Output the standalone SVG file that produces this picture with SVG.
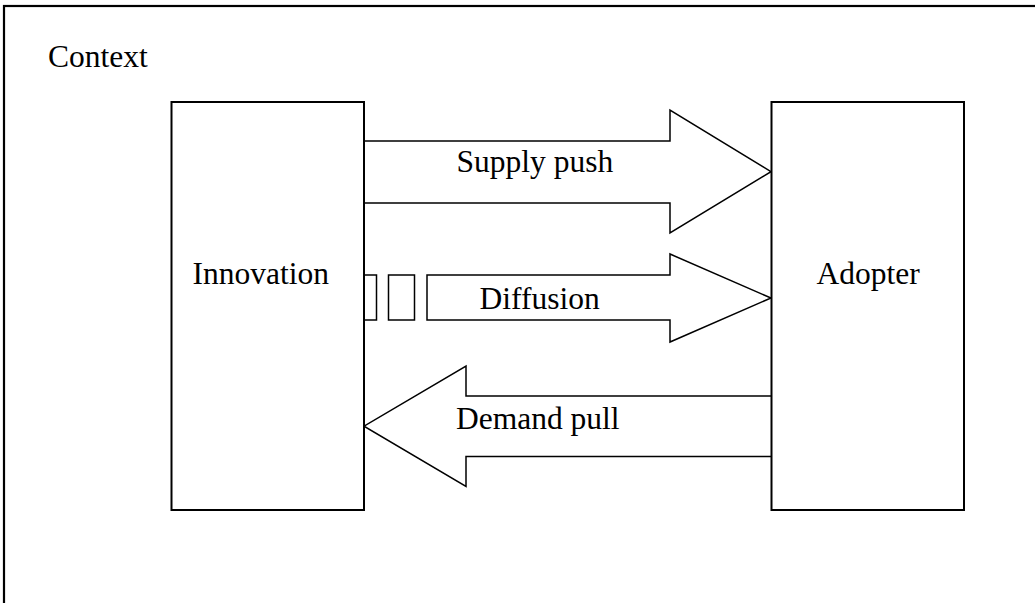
<svg xmlns="http://www.w3.org/2000/svg" width="1035" height="603" viewBox="0 0 1035 603">
<style>
.frame{fill:none;stroke:#000;stroke-width:2.2}
.box{fill:#fff;stroke:#000;stroke-width:2}
.arrow{fill:#fff;stroke:#000;stroke-width:1.5;stroke-linejoin:miter}
.lbl{font-family:"Liberation Serif","Times New Roman",serif;font-size:31.5px;fill:#000}
</style>
<rect width="1035" height="603" fill="#fff"/>
<g id="context">
<rect class="frame" x="4" y="6" width="1045" height="620"/>
<text class="lbl" x="48" y="67">Context</text>
</g>
<g id="connectors">
<g id="supply-push">
<path class="arrow" d="M364,141 H670 V110 L771,171.7 L670,233 V203 H364"/>
<text class="lbl" x="456.5" y="172">Supply push</text>
</g>
<g id="diffusion">
<rect class="arrow" x="364" y="275" width="12.5" height="45"/>
<rect class="arrow" x="388.5" y="275" width="26" height="45"/>
<path class="arrow" d="M427,275 H670 V254 L771,298 L670,342 V320 H427 Z"/>
<text class="lbl" x="479.5" y="308.5">Diffusion</text>
</g>
<g id="demand-pull">
<path class="arrow" d="M771,396 H466 V366 L364,426.2 L466,486.5 V456.5 H771"/>
<text class="lbl" x="456" y="428.5">Demand pull</text>
</g>
</g>
<g id="innovation">
<rect class="box" x="171.5" y="102" width="192.5" height="408" fill="none"/>
<text class="lbl" x="192.5" y="283.5">Innovation</text>
</g>
<g id="adopter">
<rect class="box" x="771.5" y="102" width="192.5" height="408" fill="none"/>
<text class="lbl" x="816.5" y="283.5">Adopter</text>
</g>
</svg>
